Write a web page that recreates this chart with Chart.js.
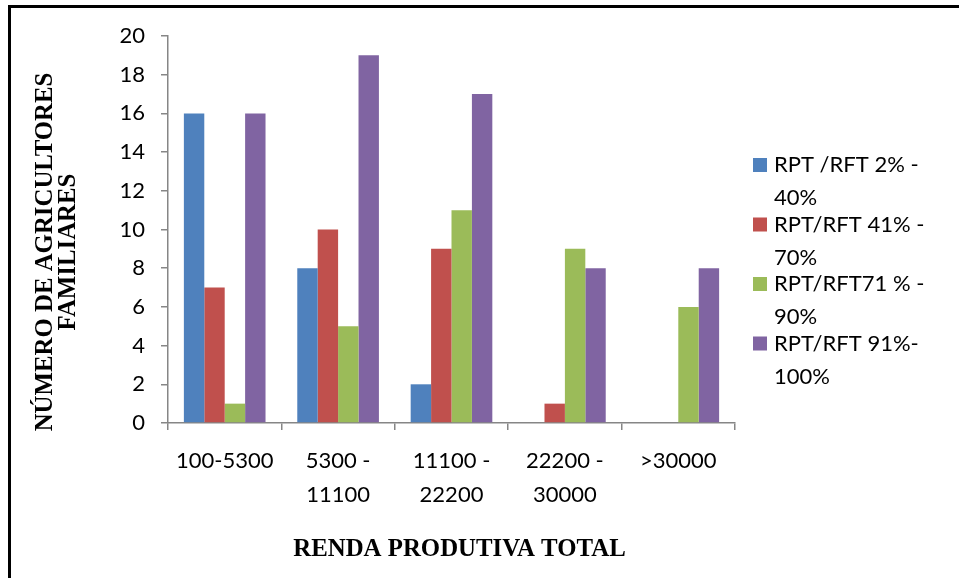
<!DOCTYPE html>
<html>
<head>
<meta charset="utf-8">
<script src="https://cdn.jsdelivr.net/npm/chart.js@4.4.1/dist/chart.umd.min.js"></script>
<style>
  html, body { margin: 0; padding: 0; background: #fff; }
  #wrap { position: relative; width: 959px; height: 578px; overflow: hidden; }
  #frame { position: absolute; left: 8px; top: 5px; width: 1200px; height: 1200px;
           border-left: 3px solid #000; border-top: 3px solid #000; pointer-events: none; }
</style>
</head>
<body>
<div id="wrap">
  <canvas id="c" width="959" height="578"></canvas>
  <div id="frame"></div>
</div>
<script>
// Income classes (x axis), split over two lines
const categories = [
  ['100-5300'],
  ['5300 -', '11100'],
  ['11100 -', '22200'],
  ['22200 -', '30000'],
  ['>30000']
];

// Number of family farmers per RPT/RFT share
const rpt2to40   = [16, 8, 2, 0, 0];
const rpt41to70  = [7, 10, 9, 1, 0];
const rpt71to90  = [1, 5, 11, 9, 6];
const rpt91to100 = [16, 19, 17, 8, 8];

// Legend texts, as wrapped lines
const seriesNames = [
  ['RPT /RFT 2% -', '40%'],
  ['RPT/RFT 41% -', '70%'],
  ['RPT/RFT71 % -', '90%'],
  ['RPT/RFT 91%-', '100%']
];
const seriesColors = ['#4F81BD', '#C0504D', '#9BBB59', '#8064A2'];

// Value axis
const yMin = 0, yMax = 20, yStep = 2;

const yTitleLines = ['NÚMERO DE AGRICULTORES', 'FAMILIARES'];
const xTitle = 'RENDA PRODUTIVA TOTAL';

const tickFont = { family: 'Lato, "Open Sans", sans-serif', size: 22 };
const titleFont = 'bold 26px "Liberation Serif", "Times New Roman", serif';
const titleSqueeze = 0.955;
const axisGrey = '#868686';

// Draws the wrapped legend to the right of the plot
const wrappedLegend = {
  id: 'wrappedLegend',
  afterDraw(chart) {
    const ctx = chart.ctx;
    const area = chart.chartArea;
    const x0 = area.right + 18;
    const y0 = 158;
    const itemGap = 59.5;
    const lineGap = 33;
    const box = 14;
    ctx.save();
    ctx.font = tickFont.size + 'px ' + tickFont.family;
    ctx.textBaseline = 'middle';
    ctx.textAlign = 'left';
    chart.data.datasets.forEach((ds, i) => {
      const top = y0 + i * itemGap;
      ctx.fillStyle = ds.backgroundColor;
      ctx.fillRect(x0, top, box, box);
      ctx.fillStyle = '#000';
      ds.legendLines.forEach((line, j) => {
        ctx.fillText(line, x0 + box + 7, top + box / 2 + j * lineGap);
      });
    });
    ctx.restore();
  }
};

// Draws both axis titles in a bold, slightly narrowed serif
const axisTitles = {
  id: 'axisTitles',
  afterDraw(chart) {
    const ctx = chart.ctx;
    const area = chart.chartArea;
    ctx.save();
    ctx.font = titleFont;
    ctx.fillStyle = '#000';
    ctx.textAlign = 'center';
    ctx.textBaseline = 'middle';

    // value axis, rotated, two lines
    ctx.save();
    ctx.translate(45, 252);
    ctx.rotate(-Math.PI / 2);
    ctx.scale(titleSqueeze, 1);
    yTitleLines.forEach((line, j) => ctx.fillText(line, 0, j * 23));
    ctx.restore();

    // category axis
    ctx.save();
    ctx.translate((area.left + area.right) / 2 + 8, 549);
    ctx.scale(titleSqueeze, 1);
    ctx.fillText(xTitle, 0, 0);
    ctx.restore();

    ctx.restore();
  }
};

const datasets = [rpt2to40, rpt41to70, rpt71to90, rpt91to100].map((values, i) => ({
  label: seriesNames[i].join(' '),
  legendLines: seriesNames[i],
  data: values,
  backgroundColor: seriesColors[i],
  borderWidth: 0,
  categoryPercentage: 0.72,
  barPercentage: 1.0
}));

new Chart(document.getElementById('c'), {
  type: 'bar',
  data: { labels: categories, datasets },
  plugins: [wrappedLegend, axisTitles],
  options: {
    responsive: false,
    animation: false,
    events: [],
    layout: { padding: { top: 36, right: 224, bottom: 12, left: 0 } },
    plugins: {
      legend: { display: false },
      tooltip: { enabled: false },
      title: { display: false }
    },
    scales: {
      x: {
        grid: {
          display: true,
          offset: true,
          drawOnChartArea: false,
          drawTicks: true,
          tickLength: 7,
          color: axisGrey,
          lineWidth: 1.5
        },
        border: { display: true, color: axisGrey, width: 1.5 },
        ticks: {
          color: '#000',
          font: { ...tickFont, lineHeight: 1.55 },
          padding: 14,
          maxRotation: 0,
          autoSkip: false
        },
        afterFit(scale) { scale.height = 143; }
      },
      y: {
        min: yMin,
        max: yMax,
        ticks: {
          stepSize: yStep,
          color: '#000',
          font: tickFont,
          padding: 16
        },
        grid: {
          display: true,
          drawOnChartArea: false,
          drawTicks: true,
          tickLength: 7,
          color: axisGrey,
          lineWidth: 1.5
        },
        border: { display: true, color: axisGrey, width: 1.5 },
        afterFit(scale) { scale.width = 168; }
      }
    }
  }
});
</script>
</body>
</html>
